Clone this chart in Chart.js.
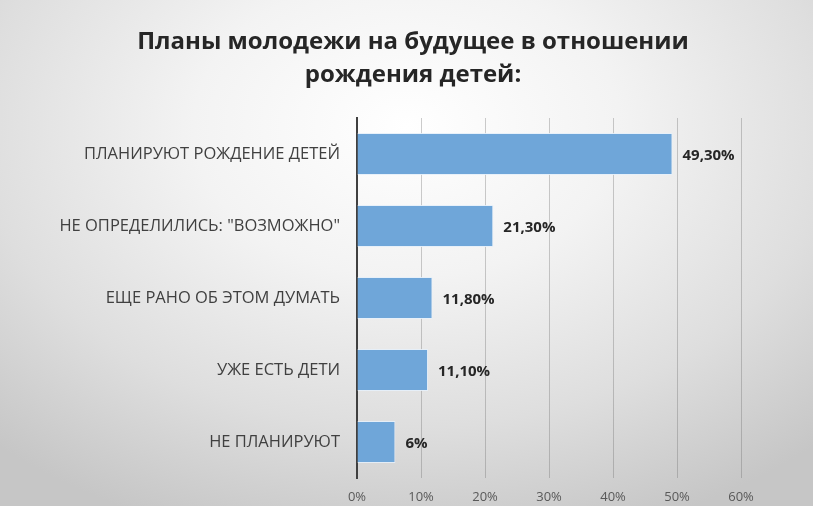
<!DOCTYPE html>
<html>
<head>
<meta charset="utf-8">
<script src="https://cdn.jsdelivr.net/npm/chart.js@4/dist/chart.umd.min.js"></script>
<style>
html,body{margin:0;padding:0;}
body{width:813px;height:506px;overflow:hidden;
background: radial-gradient(ellipse 75% 85% at 50% 25%, #ffffff 0%, #f3f3f3 35%, #dedede 70%, #c6c6c6 100%);}
#wrap{width:813px;height:506px;position:relative;}
</style>
</head>
<body>
<div id="wrap"><canvas id="c" width="813" height="506"></canvas></div>
<script>
const titleLines = ["Планы молодежи на будущее в отношении", "рождения детей:"];
const categories = ["ПЛАНИРУЮТ РОЖДЕНИЕ ДЕТЕЙ", "НЕ ОПРЕДЕЛИЛИСЬ: \"ВОЗМОЖНО\"", "ЕЩЕ РАНО ОБ ЭТОМ ДУМАТЬ", "УЖЕ ЕСТЬ ДЕТИ", "НЕ ПЛАНИРУЮТ"];
const values = [49.3, 21.3, 11.8, 11.1, 6];
const valueLabels = ["49,30%", "21,30%", "11,80%", "11,10%", "6%"];
const xTicks = [0, 10, 20, 30, 40, 50, 60];

const font = "'Open Sans', 'DejaVu Sans', sans-serif";

const titlePlugin = {
  id: 'centerTitle',
  afterDraw(chart) {
    const ctx = chart.ctx;
    ctx.save();
    ctx.font = "bold 24px " + font;
    ctx.fillStyle = "#262626";
    ctx.textAlign = "center";
    ctx.textBaseline = "middle";
    titleLines.forEach((t, i) => ctx.fillText(t, 413, 42 + i * 33));
    ctx.restore();
  }
};

const dataLabelPlugin = {
  id: 'dataLabels',
  afterDatasetsDraw(chart) {
    const ctx = chart.ctx;
    const meta = chart.getDatasetMeta(0);
    ctx.save();
    ctx.font = "bold 15px " + font;
    ctx.fillStyle = "#262626";
    ctx.textAlign = "left";
    ctx.textBaseline = "middle";
    meta.data.forEach((bar, i) => {
      ctx.fillText(valueLabels[i], bar.x + 10, bar.y + 2);
    });
    ctx.restore();
  }
};

new Chart(document.getElementById('c'), {
  type: 'bar',
  data: {
    labels: categories,
    datasets: [{
      data: values,
      backgroundColor: '#6fa6d9',
      borderColor: 'rgba(230,240,250,0.9)',
      borderWidth: 1,
      categoryPercentage: 0.6,
      barPercentage: 0.97
    }]
  },
  options: {
    indexAxis: 'y',
    responsive: false,
    animation: false,
    devicePixelRatio: 1,
    layout: { padding: { left: 0, right: 72, top: 118, bottom: 0 } },
    plugins: {
      legend: { display: false },
      tooltip: { enabled: false },
      title: { display: false }
    },
    scales: {
      x: {
        min: 0, max: 60,
        afterBuildTicks(s) { s.ticks = xTicks.map(v => ({ value: v })); },
        afterFit(s) { s.height = 28; },
        ticks: {
          callback: v => v + '%',
          color: '#595959',
          font: { family: font, size: 13 },
          padding: 11
        },
        grid: { color: 'rgba(110,110,110,0.35)', lineWidth: 1, drawTicks: false },
        border: { display: false }
      },
      y: {
        afterFit(s) { s.width = 357; },
        ticks: {
          color: '#404040',
          font: { family: font, size: 16.5 },
          padding: 17
        },
        grid: { display: false, drawTicks: false },
        border: { display: true, color: '#404040', width: 2 }
      }
    }
  },
  plugins: [dataLabelPlugin, titlePlugin]
});
</script>
</body>
</html>
